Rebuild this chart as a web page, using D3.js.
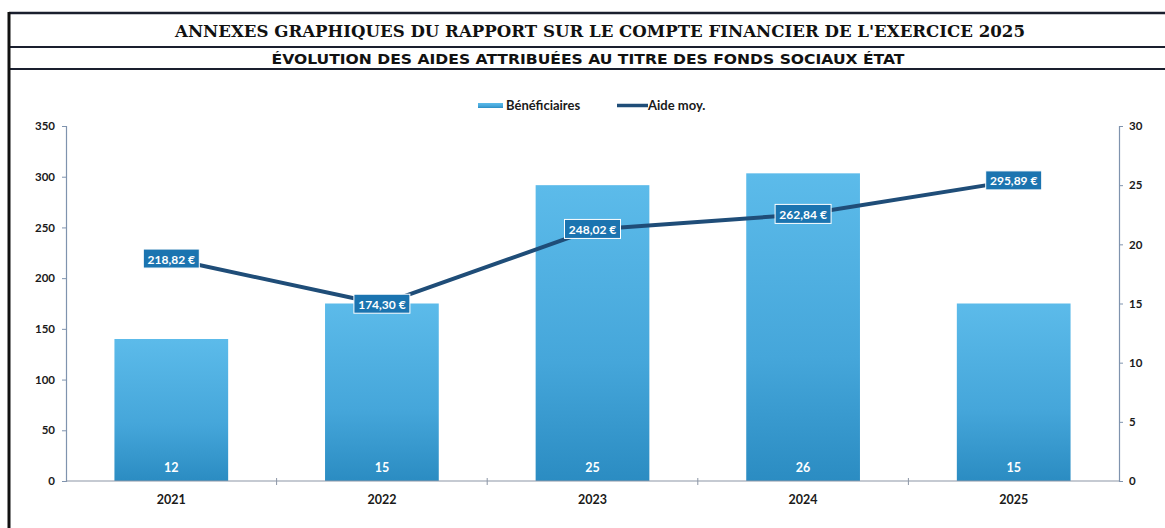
<!DOCTYPE html>
<html><head><meta charset="utf-8">
<script src="https://cdn.jsdelivr.net/npm/d3@7"></script>
<style>
html,body{margin:0;padding:0;background:#fff;}
svg{display:block;}
</style></head>
<body>
<svg id="chart" width="1165" height="528"></svg>
<script>
const categories = ["2021","2022","2023","2024","2025"];
const beneficiaires = [12, 15, 25, 26, 15];
const aideMoy = [218.82, 174.30, 248.02, 262.84, 295.89];
const leftTicks = [0,50,100,150,200,250,300,350];
const rightTicks = [0,5,10,15,20,25,30];
const title = "ANNEXES GRAPHIQUES DU RAPPORT SUR LE COMPTE FINANCIER DE L'EXERCICE 2025";
const subtitle = "ÉVOLUTION DES AIDES ATTRIBUÉES AU TITRE DES FONDS SOCIAUX ÉTAT";
const legendLabels = ["Bénéficiaires", "Aide moy."];

const svg = d3.select("#chart");
const W = 1165, H = 528;
const font = "Lato, 'Open Sans', sans-serif";

// frame
svg.append("line").attr("x1",9).attr("x2",W).attr("y1",13).attr("y2",13).attr("stroke","#1a1f2e").attr("stroke-width",2.5);
svg.append("line").attr("x1",9).attr("x2",W).attr("y1",47).attr("y2",47).attr("stroke","#1a1f2e").attr("stroke-width",2);
svg.append("line").attr("x1",9).attr("x2",W).attr("y1",69).attr("y2",69).attr("stroke","#1a1f2e").attr("stroke-width",2);
svg.append("line").attr("x1",9).attr("x2",9).attr("y1",12).attr("y2",H).attr("stroke","#111").attr("stroke-width",3);

svg.append("text").attr("x",600).attr("y",37).attr("text-anchor","middle")
  .attr("font-family","'DejaVu Serif', serif").attr("font-weight","bold").attr("font-size",16.6)
  .attr("fill","#111").attr("textLength",850).attr("lengthAdjust","spacingAndGlyphs").text(title);
svg.append("text").attr("x",588).attr("y",64).attr("text-anchor","middle")
  .attr("font-family","'DejaVu Sans', sans-serif").attr("font-weight","bold").attr("font-size",14.5)
  .attr("fill","#111").attr("textLength",633).attr("lengthAdjust","spacingAndGlyphs").text(subtitle);

const m = {left:66, right:1119, top:126, bottom:481};
const x = d3.scaleBand().domain(categories).range([m.left, m.right]).paddingInner(0.46).paddingOuter(0.23);
const yL = d3.scaleLinear().domain([0,350]).range([m.bottom, m.top]);
const yR = d3.scaleLinear().domain([0,30]).range([m.bottom, m.top]);

const defs = svg.append("defs");
const grad = defs.append("linearGradient").attr("id","barGrad").attr("x1",0).attr("x2",0).attr("y1",0).attr("y2",1);
grad.append("stop").attr("offset","0%").attr("stop-color","#5cbbea");
grad.append("stop").attr("offset","60%").attr("stop-color","#45a6da");
grad.append("stop").attr("offset","100%").attr("stop-color","#2b8cc2");

// bars
svg.append("g").selectAll("rect").data(categories).join("rect")
  .attr("x", d => x(d)).attr("width", x.bandwidth())
  .attr("y", (d,i) => yR(beneficiaires[i]))
  .attr("height", (d,i) => yR(0) - yR(beneficiaires[i]))
  .attr("fill","url(#barGrad)");

svg.append("g").selectAll("text").data(categories).join("text")
  .attr("x", d => x(d) + x.bandwidth()/2).attr("y", m.bottom - 9)
  .attr("text-anchor","middle").attr("font-family",font).attr("font-weight","bold")
  .attr("font-size",12.5).attr("fill","#fff").text((d,i) => beneficiaires[i]);

// axes
const axisColor = "#7f93ae";
const gL = svg.append("g").attr("transform",`translate(${m.left},0)`)
  .call(d3.axisLeft(yL).tickValues(leftTicks).tickSize(4).tickPadding(7));
const gR = svg.append("g").attr("transform",`translate(${m.right},0)`)
  .call(d3.axisRight(yR).tickValues(rightTicks).tickSize(4).tickPadding(6));
[gL,gR].forEach(g => {
  g.select(".domain").attr("stroke",axisColor).attr("stroke-width",1.2);
  g.selectAll(".tick line").attr("stroke",axisColor);
  g.selectAll(".tick text").attr("font-family",font).attr("font-weight","bold").attr("font-size",11.5).attr("fill","#1a1a1a");
});

// x axis
const gX = svg.append("g");
gX.append("line").attr("x1",m.left).attr("x2",m.right).attr("y1",m.bottom).attr("y2",m.bottom)
  .attr("stroke","#8c96a6").attr("stroke-width",1.2);
const bounds = categories.slice(1).map(d => x(d) - x.step()*x.paddingInner()/2);
gX.selectAll("line.t").data(bounds).join("line").attr("class","t")
  .attr("x1",d=>d).attr("x2",d=>d).attr("y1",m.bottom-3).attr("y2",m.bottom+4)
  .attr("stroke","#8c96a6");
gX.selectAll("text").data(categories).join("text")
  .attr("x", d => x(d) + x.bandwidth()/2).attr("y", m.bottom + 23)
  .attr("text-anchor","middle").attr("font-family",font).attr("font-weight","bold")
  .attr("font-size",12.5).attr("fill","#1a1a1a").text(d => d);

// line
const pts = categories.map((d,i) => [x(d) + x.bandwidth()/2, yL(aideMoy[i])]);
svg.append("path").attr("d", d3.line()(pts)).attr("fill","none")
  .attr("stroke","#1f4d78").attr("stroke-width",4).attr("stroke-linejoin","round");

const fmt = v => v.toFixed(2).replace(".", ",") + " €";
const lbl = svg.append("g").selectAll("g").data(pts).join("g")
  .attr("transform", d => `translate(${d[0]},${d[1]})`);
lbl.append("rect").attr("x",-28).attr("y",-10).attr("width",56).attr("height",19)
  .attr("fill","#1b74b0").attr("stroke","#fff").attr("stroke-width",1);
lbl.append("text").attr("y",4.5).attr("text-anchor","middle")
  .attr("font-family",font).attr("font-weight","bold").attr("font-size",12)
  .attr("fill","#fff").text((d,i) => fmt(aideMoy[i]));

// legend
const lg = svg.append("g");
lg.append("rect").attr("x",478).attr("y",103).attr("width",25).attr("height",5).attr("fill","url(#barGrad)");
lg.append("text").attr("x",506).attr("y",110).attr("font-family",font).attr("font-weight","bold")
  .attr("font-size",13).attr("fill","#1a1a1a").text(legendLabels[0]);
lg.append("line").attr("x1",617).attr("x2",648).attr("y1",105.5).attr("y2",105.5)
  .attr("stroke","#1f4d78").attr("stroke-width",3.5);
lg.append("text").attr("x",648).attr("y",110).attr("font-family",font).attr("font-weight","bold")
  .attr("font-size",13).attr("fill","#1a1a1a").text(legendLabels[1]);
</script>
</body></html>
